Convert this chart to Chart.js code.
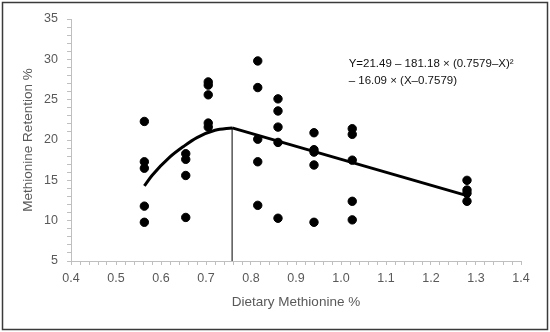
<!DOCTYPE html>
<html>
<head>
<meta charset="utf-8">
<script src="https://cdn.jsdelivr.net/npm/chart.js@4/dist/chart.umd.min.js"></script>
<style>
  html, body { margin: 0; padding: 0; background: #fff; }
  #wrap { width: 550px; height: 332px; position: relative; }
</style>
</head>
<body>
<div id="wrap"><canvas id="chart" width="550" height="332"></canvas></div>
<script>
// dietary methionine levels (x) and retention readings (y)
const doseX = [0.563, 0.655, 0.705, 0.815, 0.86, 0.94, 1.025, 1.28];
const retention = [
  [22.3, 17.3, 16.5, 11.8, 9.8],
  [18.3, 17.6, 15.6, 10.4],
  [27.2, 26.8, 25.6, 22.1, 21.6],
  [29.8, 26.5, 20.1, 17.3, 11.9],
  [25.1, 23.6, 21.6, 19.7, 10.3],
  [20.9, 18.8, 18.5, 16.9, 9.8],
  [21.4, 20.7, 17.5, 12.4, 10.1],
  [15.0, 13.8, 13.4, 12.4]
];

// fitted curve: rising part, then straight part
const curveX = [0.563, 0.58, 0.62, 0.65, 0.68, 0.72, 0.758];
const curveY = [14.3, 15.6, 17.9, 19.2, 20.3, 21.2, 21.5];
const lineX = [0.758, 1.28];
const lineY = [21.5, 13.1];

// break point marker
const breakX = 0.758;
const breakY = [5, 21.5];

const eqLines = ["Y=21.49 \u2013 181.18 \u00d7 (0.7579\u2013X)\u00b2", "\u2013 16.09 \u00d7 (X\u20130.7579)"];
const eqPos = { x: 1.017, y: [29.5, 27.3] };

const xTitle = "Dietary Methionine %";
const yTitle = "Methionine Retention %";

const pts = [];
doseX.forEach((x, i) => retention[i].forEach(v => pts.push({ x: x, y: v })));

const fontFam = "'Liberation Sans', Arial, sans-serif";
const grey = "#595959";

const frame = {
  id: "frame",
  afterDraw(chart) {
    const ctx = chart.ctx;
    ctx.save();
    ctx.strokeStyle = "#3a3a3a";
    ctx.lineWidth = 1.5;
    ctx.strokeRect(2.5, 2.5, 545, 327);
    const xs = chart.scales.x, ys = chart.scales.y;
    ctx.fillStyle = "#111";
    ctx.font = "11.5px " + fontFam;
    ctx.textAlign = "left";
    ctx.textBaseline = "middle";
    eqLines.forEach((t, i) => ctx.fillText(t, xs.getPixelForValue(eqPos.x), ys.getPixelForValue(eqPos.y[i])));
    ctx.restore();
  }
};

new Chart(document.getElementById("chart"), {
  type: "scatter",
  data: {
    datasets: [
      { label: "obs", data: pts, backgroundColor: "#000", borderColor: "#000", pointRadius: 4.2, order: 1 },
      { label: "curve", type: "line", data: curveX.map((x, i) => ({ x: x, y: curveY[i] })),
        borderColor: "#000", borderWidth: 3, pointRadius: 0, cubicInterpolationMode: "monotone", fill: false, order: 2 },
      { label: "line", type: "line", data: lineX.map((x, i) => ({ x: x, y: lineY[i] })),
        borderColor: "#000", borderWidth: 3, pointRadius: 0, tension: 0, fill: false, order: 2 },
      { label: "break", type: "line", data: breakY.map(v => ({ x: breakX, y: v })),
        borderColor: "#000", borderWidth: 1, pointRadius: 0, fill: false, order: 3 }
    ]
  },
  options: {
    responsive: false,
    animation: false,
    layout: { padding: { left: 20, right: 29, top: 19, bottom: 18 } },
    plugins: { legend: { display: false }, tooltip: { enabled: false } },
    scales: {
      x: {
        type: "linear", min: 0.4, max: 1.4,
        afterFit(s) { s.height = 53; },
        border: { color: "#bfbfbf" },
        grid: { drawOnChartArea: false, color: "#bfbfbf", tickLength: 4 },
        ticks: {
          stepSize: 0.02, autoSkip: false, maxRotation: 0, color: grey, padding: 6,
          font: { family: fontFam, size: 12.5 },
          callback: v => Math.round(v * 100) % 10 === 0 ? v.toFixed(1) : ""
        },
        title: { display: true, text: xTitle, color: grey, font: { family: fontFam, size: 13.5 }, padding: { top: 4, bottom: 4 } }
      },
      y: {
        min: 5, max: 35,
        afterFit(s) { s.width = 51; },
        border: { color: "#bfbfbf" },
        grid: { drawOnChartArea: false, color: "#bfbfbf", tickLength: 4 },
        ticks: {
          stepSize: 1, autoSkip: false, color: grey, padding: 9,
          font: { family: fontFam, size: 12.5 },
          callback: v => v % 5 === 0 ? String(v) : ""
        },
        title: { display: true, text: yTitle, color: grey, font: { family: fontFam, size: 13.5 }, padding: { top: 0, bottom: 0 } }
      }
    }
  },
  plugins: [frame]
});
</script>
</body>
</html>
